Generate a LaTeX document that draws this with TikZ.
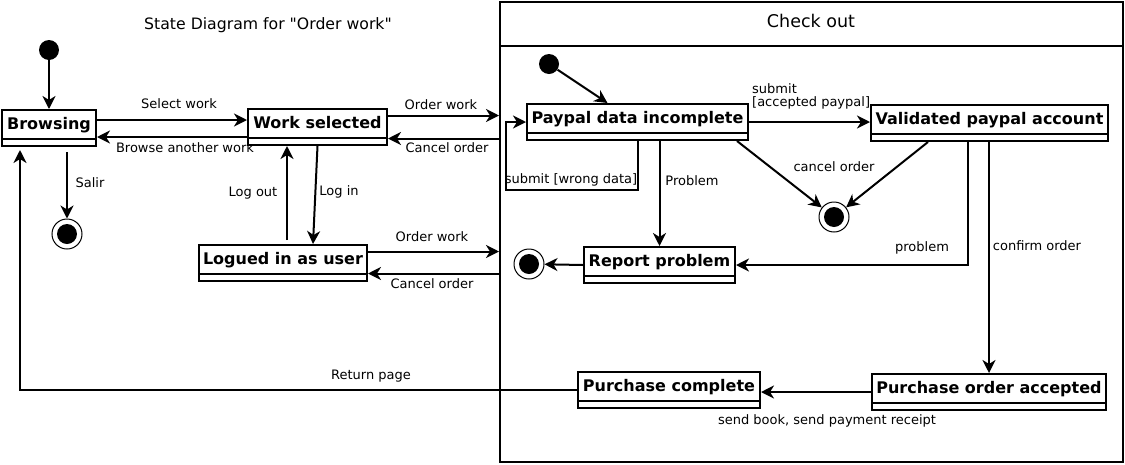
\documentclass[tikz,border=0pt]{standalone}
\usepackage{fontspec}
\setmainfont{DejaVu Sans}
\newfontfamily\plainfont{DejaVu Sans}
\usetikzlibrary{arrows.meta}

\begin{document}
\begin{tikzpicture}[x=1pt,y=-1pt,
    statebox/.style={draw, line width=2pt, anchor=north west, minimum height=36pt, inner sep=2pt,
      font=\fontsize{16}{19}\selectfont\bfseries, text height=11.5pt, text depth=8.5pt},
    startdot/.style={circle, fill=black, minimum size=20pt, inner sep=0pt},
    enddot/.style={circle, draw, line width=1pt, minimum size=30pt, inner sep=0pt,
      path picture={\fill (path picture bounding box.center) circle (10pt);}},
    trans/.style={line width=2pt, -{Stealth[length=13pt,width=13pt,inset=4pt]}},
    lbl/.style={font=\fontsize{13}{15}\selectfont, inner sep=1pt}]

  \useasboundingbox (0,0) rectangle (1125,464);

  % titles and the Check out frame
  \node[font=\plainfont\fontsize{15.7}{18}\selectfont] (title) at (268,25) {State Diagram for "Order work"};
  \node[draw, line width=2pt, anchor=north west, minimum width=623pt, minimum height=460pt, inner sep=0pt] (checkout) at (499,1) {};
  \draw[line width=2pt] ([yshift=-45pt]checkout.north west) -- ([yshift=-45pt]checkout.north east);
  \node[font=\fontsize{17.5}{20}\selectfont] (checktitle) at (811,21) {Check out};

  % states
  \node[startdot] (init1) at (49,50) {};
  \node[statebox, minimum width=94pt] (browsing) at (1,109) {Browsing};
  \node[enddot] (final1) at (67,234) {};
  \node[statebox, minimum width=139pt] (worksel) at (247,108) {Work selected};
  \node[statebox, minimum width=168pt] (logued) at (198,244) {Logued in as user};

  \node[startdot] (init2) at (549,64) {};
  \node[statebox, minimum width=221pt] (paypal) at (526,103) {Paypal data incomplete};
  \node[statebox, minimum width=237pt] (valid) at (870,104) {Validated paypal account};
  \node[enddot] (final3) at (834,217) {};
  \node[enddot] (final2) at (529,264) {};
  \node[statebox, minimum width=151pt] (report) at (583,246) {Report problem};
  \node[statebox, minimum width=182pt] (pcomplete) at (577,371) {Purchase complete};
  \node[statebox, minimum width=234pt] (paccepted) at (871,373) {Purchase order accepted};

  \foreach \s in {browsing,worksel,logued,paypal,valid,report,pcomplete,paccepted}
    \draw[line width=2pt] ([yshift=8pt]\s.south west) -- ([yshift=8pt]\s.south east);

  \coordinate (loop) at (506,190);

  % transitions outside
  \draw[trans] (init1) -- (init1 |- browsing.north);
  \draw[trans] ([yshift=8pt]browsing.east) -- ([yshift=8pt]browsing.east -| worksel.west);
  \draw[trans] ([yshift=-10pt]worksel.west) -- ([yshift=-10pt]worksel.west -| browsing.east);
  \draw[trans] ([yshift=-5pt]browsing.south -| final1.north) -- (final1);
  \draw[trans] (worksel.south) -- ([xshift=30pt]logued.north);
  \draw[trans, shorten <=4pt] ([xshift=4pt]logued.north) -- ([xshift=4pt]logued.north |- worksel.south);
  \draw[trans] ([yshift=11.5pt]worksel.east) -- ([yshift=11.5pt]worksel.east -| checkout.west);
  \draw[trans] ([yshift=-11.5pt]worksel.east -| checkout.west) -- ([yshift=-11.5pt]worksel.east);
  \draw[trans] ([yshift=11.5pt]logued.east) -- ([yshift=11.5pt]logued.east -| checkout.west);
  \draw[trans] ([yshift=-10.5pt]logued.east -| checkout.west) -- ([yshift=-10.5pt]logued.east);
  \draw[trans] (pcomplete.west) -| ([xshift=-29pt,yshift=-3pt]browsing.south);

  % transitions inside Check out
  \draw[trans] (init2) -- ([xshift=-30pt]paypal.north);
  \draw[trans] (paypal.south) |- (loop) |- (paypal.west);
  \draw[trans] (paypal.south -| report.north) -- (report.north);
  \draw[trans] (report.west) -- (final2);
  \draw[trans] (paypal.east) -- (paypal.east -| valid.west);
  \draw[trans] ([xshift=-12pt]paypal.south east) -- (final3);
  \draw[trans] ([xshift=58pt]valid.south west) -- (final3);
  \draw[trans] ([xshift=98pt]valid.south west) |- (report.east);
  \draw[trans] (valid.south west -| paccepted.north) -- (paccepted.north);
  \draw[trans] (paccepted.west) -- (paccepted.west -| pcomplete.east);

  % labels
  \node[lbl] (lselect) at (179,104) {Select work};
  \node[lbl] (lbrowse) at (185,148) {Browse another work};
  \node[lbl] (lsalir) at (90,183) {Salir};
  \node[lbl] (llogout) at (253,193) {Log out};
  \node[lbl] (llogin) at (339,192) {Log in};
  \node[lbl] (lorder1) at (441,105) {Order work};
  \node[lbl] (lcancel1) at (447,148) {Cancel order};
  \node[lbl] (lorder2) at (432,237) {Order work};
  \node[lbl] (lcancel2) at (432,284) {Cancel order};
  \node[lbl] (lreturn) at (371,376) {Return page};
  \node[lbl] (lwrong) at (571,180) {submit [wrong data]};
  \node[lbl] (lproblem1) at (692,181) {Problem};
  \node[lbl, anchor=west, align=left] (laccepted) at (751,96) {submit\\[-2pt][accepted paypal]};
  \node[lbl] (lcancel3) at (834,167) {cancel order};
  \node[lbl] (lproblem2) at (922,248) {problem};
  \node[lbl] (lconfirm) at (1037,246) {confirm order};
  \node[lbl] (lsend) at (827,421) {send book, send payment receipt};
\end{tikzpicture}
\end{document}
